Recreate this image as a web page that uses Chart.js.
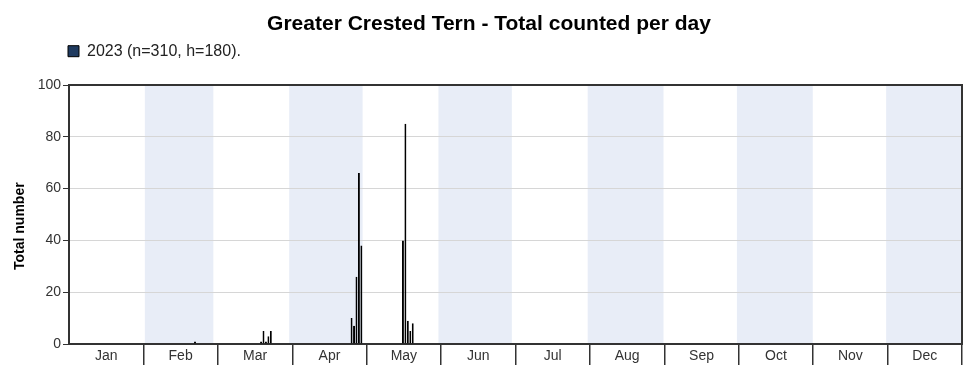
<!DOCTYPE html>
<html>
<head>
<meta charset="utf-8">
<script src="https://cdn.jsdelivr.net/npm/chart.js@4.4.1/dist/chart.umd.min.js"></script>
<style>
html,body{margin:0;padding:0;background:#fff;}
#wrap{width:978px;height:378px;}
</style>
</head>
<body>
<div id="wrap"><canvas id="c" width="978" height="378"></canvas></div>
<script>
// ---- data ----
const chartTitle = 'Greater Crested Tern - Total counted per day';
const seriesLabel = '2023 (n=310, h=180).';
const yAxisTitle = 'Total number';
const months = ['Jan','Feb','Mar','Apr','May','Jun','Jul','Aug','Sep','Oct','Nov','Dec'];
const monthStartDays = [0,31,59,90,120,151,181,212,243,273,304,334,365];
// day of year (0 = 1 Jan) and count
const barDays   = [51, 78, 79, 80, 81, 82, 115, 116, 117, 118, 119, 136, 137, 138, 139, 140];
const barValues = [1,  1,  5,  1,  3,  5,  10,  7,   26,  66,  38,  40,  85,  9,   5,   8];
const yTicks = [0, 20, 40, 60, 80, 100];

Chart.defaults.font.family = "'Liberation Sans', Arial, sans-serif";

const bandPlugin = {
  id: 'bands',
  beforeDraw(chart) {
    const {ctx, chartArea: a, scales} = chart;
    const xd = scales.xd;
    ctx.save();
    ctx.fillStyle = '#e8edf7';
    for (let m = 1; m < 12; m += 2) {
      const x0 = xd.getPixelForValue(monthStartDays[m]);
      const x1 = xd.getPixelForValue(monthStartDays[m + 1]);
      ctx.fillRect(x0, a.top, x1 - x0, a.bottom - a.top);
    }
    ctx.restore();
  }
};

const legendShift = {
  id: 'legendShift',
  afterLayout(chart) {
    if (chart.legend) chart.legend.left += 62;
  }
};

const points = barDays.map((d, i) => ({x: d + 0.5, y: barValues[i]}));

new Chart(document.getElementById('c'), {
  type: 'bar',
  data: {
    datasets: [{
      label: seriesLabel,
      data: points,
      xAxisID: 'xd',
      yAxisID: 'y',
      backgroundColor: '#1f3a5f',
      borderColor: '#000',
      borderWidth: 1,
      barPercentage: 0.8,
      categoryPercentage: 1
    }]
  },
  options: {
    responsive: false,
    devicePixelRatio: 1,
    animation: false,
    layout: {padding: {left: 0, right: 0, top: 0, bottom: 0}},
    plugins: {
      title: {
        display: true,
        text: chartTitle,
        color: '#000',
        font: {size: 21, weight: 'bold'},
        padding: {top: 12, bottom: 0}
      },
      legend: {
        display: true,
        align: 'start',
        labels: {
          boxWidth: 11,
          boxHeight: 11,
          color: '#222',
          font: {size: 16},
          padding: 6
        }
      },
      tooltip: {enabled: false}
    },
    scales: {
      xd: {
        type: 'linear',
        display: false,
        min: 0,
        max: 365,
        offset: false
      },
      x: {
        type: 'category',
        labels: months,
        position: 'bottom',
        offset: true,
        grid: {
          offset: true,
          drawOnChartArea: false,
          tickLength: 21,
          lineWidth: 1.5,
          color: (ctx) => ctx.index === 0 ? 'rgba(0,0,0,0)' : '#333'
        },
        border: {color: '#333', width: 2},
        ticks: {
          color: '#333',
          font: {size: 14},
          padding: -17,
          maxRotation: 0,
          autoSkip: false
        },
        afterFit(s) { s.height = 34; }
      },
      xTop: {
        type: 'linear',
        position: 'top',
        min: 0, max: 1,
        grid: {display: false, drawTicks: false},
        ticks: {display: false},
        border: {display: true, color: '#333', width: 2},
        afterFit(s) { s.height = 15.8; }
      },
      y: {
        type: 'linear',
        position: 'left',
        min: 0,
        max: 100,
        afterBuildTicks(s) { s.ticks = yTicks.map(v => ({value: v})); },
        ticks: {color: '#333', font: {size: 14}, padding: 2},
        grid: {color: '#d6d6d6', lineWidth: 1, tickColor: '#333', tickLength: 6},
        border: {color: '#333', width: 2},
        title: {
          display: true,
          text: yAxisTitle + '\u00a0\u00a0\u00a0\u00a0\u00a0\u00a0',
          color: '#000',
          font: {size: 14, weight: 'bold'},
          padding: {top: 12, bottom: 0}
        },
        afterFit(s) { s.width = 69; }
      },
      yRight: {
        type: 'linear',
        position: 'right',
        min: 0, max: 1,
        grid: {display: false, drawTicks: false},
        ticks: {display: false},
        border: {display: true, color: '#333', width: 2},
        afterFit(s) { s.width = 16; }
      }
    }
  },
  plugins: [bandPlugin, legendShift]
});
</script>
</body>
</html>
